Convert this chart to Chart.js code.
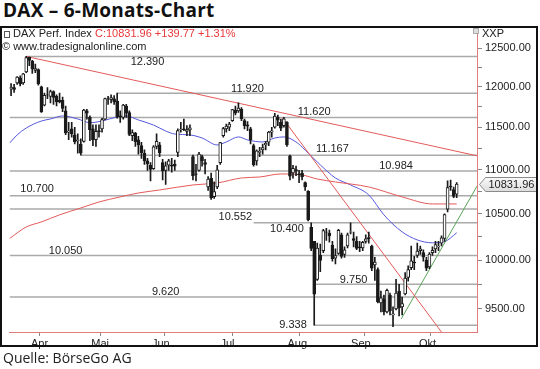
<!DOCTYPE html>
<html>
<head>
<meta charset="utf-8">
<title>DAX – 6-Monats-Chart</title>
<script src="https://cdn.jsdelivr.net/npm/chart.js@4/dist/chart.umd.min.js"></script>
<style>
  html, body { margin: 0; padding: 0; background: #fff; }
  #wrap { position: relative; width: 540px; height: 369px; overflow: hidden; font-family: "Liberation Sans", Arial, sans-serif; }
  #c { position: absolute; left: 0; top: 0; }
  #title { position: absolute; left: 3px; top: 1px; font: 700 19px/19px "Open Sans", sans-serif; letter-spacing: 0.25px; color: #111; white-space: nowrap; }
  #frame { position: absolute; left: 0; top: 26px; width: 538px; height: 321px; border: 2px solid #111; box-sizing: border-box; pointer-events: none; }
  .info { position: absolute; font-size: 11px; line-height: 13px; color: #222; white-space: nowrap; }
  .info .red { color: #e8383a; }
  #icon { display: inline-block; width: 4px; height: 5px; border: 1px solid #555; margin-right: 3px; vertical-align: -1px; }
  #closeBox { position: absolute; left: 473px; top: 28px; width: 4px; height: 4px; border: 1px solid #aaa; background: #ddd; }
  #source { position: absolute; left: 3px; top: 349px; font: 400 14px/18px "Open Sans", sans-serif; color: #222; white-space: nowrap; }
</style>
</head>
<body>
<div id="wrap">
  <div id="title">DAX – 6-Monats-Chart</div>
  <canvas id="c" width="540" height="369"></canvas>
  <div id="frame"></div>
  <div class="info" style="left:4px;top:27px;"><span id="icon"></span>DAX Perf. Index <span class="red">C:10831.96 +139.77 +1.31%</span></div>
  <div class="info" style="left:2px;top:40px;">© www.tradesignalonline.com</div>
  <div class="info" style="left:482px;top:27px;">XXP</div>
  <div id="closeBox"></div>
  <div id="source">Quelle: BörseGo AG</div>
</div>
<script>
// =============================
// DATA (trading days 1 Apr – 28 Oct 2015, x = day index)
// =============================
const months = ["Apr", "Mai", "Jun", "Jul", "Aug", "Sep", "Okt"];
const monthStart = [0, 20, 40, 62, 85, 106, 128];

const open = [
  11970, 11990, 12050, 12110, 12050, 12190, 12380, 12330, 12210, 12220,
  12000, 11770, 11900, 11880, 11940, 11880, 11830, 11830, 11700, 11440,
  11480, 11410, 11340, 11300, 11330, 11700, 11620, 11480, 11350, 11460,
  11480, 11600, 11850, 11840, 11850, 11820, 11640, 11620, 11760, 11680,
  11400, 11430, 11350, 11280, 11190, 11100, 11050, 11010, 11270, 11290,
  11080, 10990, 11050, 11050, 11060, 11200, 11470, 11480, 11450, 11470,
  11150, 10950, 10990, 11150, 11080, 10800, 10900, 10690, 10800, 11080,
  11400, 11480, 11500, 11580, 11710, 11700, 11720, 11580, 11530, 11480,
  11280, 11100, 11200, 11230, 11290, 11320, 11440, 11500, 11620, 11560,
  11520, 11560, 11160, 10960, 11000, 10950, 10960, 10850, 10750, 10350,
  10200, 9800, 10050, 10100, 10300, 10290, 10160, 10020, 10070, 10270,
  10060, 10150, 10300, 10230, 10200, 10140, 10130, 10200, 10240, 10150,
  9950, 9900, 9560, 9600, 9470, 9640, 9440, 9500, 9680, 9520,
  9650, 9820, 9920, 9980, 10050, 10100, 10080, 10000, 9930, 10080,
  10120, 10140, 10180, 10230, 10550, 10810, 10770, 10720
];
const high = [
  12040, 12030, 12130, 12140, 12170, 12390, 12380, 12340, 12290, 12230,
  12010, 11920, 11990, 11960, 11950, 11900, 11920, 11870, 11760, 11560,
  11560, 11500, 11420, 11360, 11720, 11720, 11640, 11530, 11530, 11530,
  11610, 11860, 11880, 11900, 11890, 11920, 11700, 11780, 11780, 11700,
  11470, 11440, 11390, 11320, 11230, 11130, 11080, 11280, 11420, 11320,
  11120, 11090, 11120, 11130, 11110, 11480, 11560, 11600, 11520, 11530,
  11170, 11060, 11200, 11170, 11120, 10920, 10960, 10860, 11050, 11320,
  11500, 11540, 11560, 11720, 11760, 11800, 11740, 11600, 11570, 11500,
  11300, 11230, 11260, 11300, 11330, 11450, 11500, 11670, 11650, 11600,
  11620, 11570, 11170, 11050, 11040, 10990, 10990, 10860, 10760, 10400,
  10200, 10180, 10170, 10330, 10340, 10320, 10200, 10120, 10330, 10290,
  10140, 10290, 10400, 10300, 10250, 10200, 10200, 10270, 10300, 10160,
  10030, 9920, 9680, 9640, 9700, 9660, 9520, 9800, 9750, 9620,
  9870, 9940, 10150, 10040, 10180, 10150, 10110, 10030, 10080, 10140,
  10200, 10200, 10260, 10500, 10870, 10880, 10800, 10850
];
const low = [
  11890, 11930, 12030, 12010, 12030, 12180, 12270, 12170, 12180, 12020,
  11680, 11760, 11850, 11800, 11780, 11760, 11800, 11690, 11410, 11350,
  11380, 11300, 11190, 11167, 11320, 11600, 11340, 11280, 11270, 11380,
  11440, 11590, 11780, 11800, 11780, 11610, 11560, 11600, 11620, 11400,
  11340, 11270, 11180, 11130, 11060, 10990, 10870, 11000, 11240, 11150,
  10880, 10830, 10990, 10970, 10990, 11150, 11440, 11460, 11400, 11400,
  10880, 10870, 10980, 11040, 10950, 10760, 10660, 10670, 10780, 11060,
  11380, 11440, 11460, 11570, 11650, 11680, 11580, 11480, 11460, 11300,
  11040, 11050, 11150, 11180, 11230, 11280, 11380, 11490, 11520, 11460,
  11500, 11270, 10880, 10900, 10930, 10850, 10880, 10760, 10420, 10100,
  9338, 9790, 9880, 10080, 10210, 10190, 9990, 9960, 10060, 10020,
  10030, 10130, 10280, 10140, 10110, 10090, 10100, 10180, 10180, 9890,
  9790, 9560, 9470, 9440, 9460, 9440, 9325, 9490, 9430, 9440,
  9640, 9780, 9900, 9900, 10030, 10060, 9990, 9890, 9910, 10050,
  10080, 10100, 10150, 10200, 10520, 10760, 10680, 10680
];
const close = [
  11998, 11967, 12124, 12036, 12166, 12375, 12338, 12227, 12232, 12039,
  11688, 11892, 11897, 11939, 11868, 11810, 11812, 11730, 11432, 11454,
  11420, 11327, 11350, 11190, 11709, 11672, 11472, 11351, 11450, 11447,
  11595, 11853, 11848, 11864, 11815, 11625, 11625, 11771, 11673, 11413,
  11436, 11328, 11290, 11197, 11100, 11064, 11001, 11265, 11332, 11197,
  10984, 11044, 11100, 11040, 11040, 11460, 11471, 11471, 11473, 11492,
  10930, 10945, 11180, 11099, 11058, 10890, 10676, 10747, 10996, 11316,
  11484, 11516, 11539, 11716, 11673, 11734, 11604, 11520, 11512, 11347,
  11056, 11218, 11212, 11257, 11308, 11443, 11456, 11636, 11585, 11490,
  11604, 11293, 10924, 11015, 10985, 10940, 10915, 10800, 10432, 10124,
  9648, 10128, 9997, 10315, 10298, 10259, 10016, 10048, 10318, 10038,
  10108, 10271, 10303, 10210, 10123, 10131, 10188, 10227, 10229, 9916,
  9980, 9570, 9612, 9470, 9688, 9483, 9450, 9660, 9509, 9553,
  9814, 9902, 9994, 9970, 10096, 10119, 10032, 9915, 10065, 10104,
  10164, 10147, 10238, 10491, 10794, 10801, 10692, 10831.96
];

// moving averages (day index / value)
const blueMaDay = [-0.5, 2, 5, 10, 13, 17, 22, 26, 30, 35, 38, 42, 47, 51, 54, 59, 63, 68,
  71, 75, 78, 83, 87, 90, 94, 97, 102, 107, 112, 118, 123, 129, 134, 139, 143, 147];
const blueMaValue = [11310, 11408, 11491, 11576, 11601, 11638, 11601, 11556, 11576, 11626, 11638, 11589,
  11527, 11455, 11419, 11408, 11371, 11288, 11324, 11384, 11348, 11324, 11371, 11384, 11324, 11229,
  11054, 10903, 10823, 10710, 10488, 10302, 10215, 10184, 10196, 10292];
const redMaDay = [-0.5, 5, 10, 16, 23, 29, 36, 42, 49, 60, 68, 76, 82, 89, 96, 101, 107, 118, 129, 139, 147];
const redMaValue = [10230, 10355, 10410, 10488, 10564, 10631, 10688, 10732, 10766, 10823, 10846,
  10903, 10914, 10949, 10937, 10891, 10857, 10800, 10688, 10609, 10609];

// support / resistance levels
const levels = [12390, 11920, 11620, 11167, 10984, 10700, 10552, 10400, 10050, 9750, 9620, 9338];
const levelLabels = ["12.390", "11.920", "11.620", "11.167", "10.984", "10.700", "10.552", "10.400", "10.050", "9.750", "9.620", "9.338"];
const levelFromDay = [5, 35, -0.5, 23, -0.5, -0.5, -0.5, 80, -0.5, 100, -0.5, 100];

// trend lines [day, value]
const downTrend = [[5, 12390], [153.7, 11160]];
const steepTrend = [[89.4, 11620], [143, 9231]];
const upTrend = [[128.7, 9400], [153.7, 10810]];

const yTicks = [9500, 9750, 10000, 10250, 10500, 10750, 11000, 11250, 11500, 11750, 12000, 12250, 12500];

// =============================
// LAYOUT / STYLE
// =============================
const X_MIN = -0.5, X_MAX = 153.7;
const labelDay = [45, 78, 100, 106, 127, 8.6, 74, 91, 18, 113, 51, 93];
const labelShift = [6, -4, -5, -6, -5, -7, 8, 6, -4, -4, -5, 0];
const FONT = '"Liberation Sans", Arial, sans-serif';
const AXIS_RED = "#e27b7b";

const pts = (days, vals) => days.map((d, i) => ({ x: d, y: vals[i] }));
const seg = (p) => p.map(([d, v]) => ({ x: d, y: v }));

const lineDs = (data, color, width, order) => ({
  type: "line", data, borderColor: color, borderWidth: width,
  pointRadius: 0, fill: false, order
});

const datasets = [];
levels.forEach((v, k) => {
  datasets.push(lineDs([{ x: levelFromDay[k], y: v }, { x: X_MAX, y: v }], "#aaaaaa", 1.5, 9));
});
datasets.push(Object.assign(lineDs(pts(redMaDay, redMaValue), "#e45a5a", 1, 6), { cubicInterpolationMode: "monotone" }));
datasets.push(Object.assign(lineDs(pts(blueMaDay, blueMaValue), "#5858dc", 1, 6), { cubicInterpolationMode: "monotone" }));
datasets.push(lineDs(seg(downTrend), "#e45a5a", 1, 5));
datasets.push(lineDs(seg(steepTrend), "#e45a5a", 1, 5));
datasets.push(lineDs(seg(upTrend), "#5aa55a", 1, 5));

// wicks
datasets.push({
  type: "bar", data: open.map((o, i) => ({ x: i, y: [low[i], high[i]] })),
  backgroundColor: "#1a1a1a", borderWidth: 0, barThickness: 1, grouped: false, order: 1
});
// bodies
datasets.push({
  type: "bar",
  data: open.map((o, i) => ({ x: i, y: [Math.min(o, close[i]), Math.max(o, close[i])] })),
  backgroundColor: open.map((o, i) => close[i] >= o ? "#ffffff" : "#1a1a1a"),
  borderColor: "#1a1a1a", borderWidth: 1, borderSkipped: false,
  barThickness: 3, grouped: false, order: 0
});

const overlay = {
  id: "overlay",
  afterDatasetsDraw(chart) {
    const { ctx, scales: { x, y } } = chart;
    ctx.save();
    ctx.font = "11px " + FONT;
    ctx.fillStyle = "#222";
    ctx.textAlign = "center";
    ctx.textBaseline = "middle";
    levels.forEach((v, k) => {
      ctx.fillText(levelLabels[k], x.getPixelForValue(labelDay[k]), y.getPixelForValue(v) + labelShift[k]);
    });
    ctx.restore();
  },
  afterDraw(chart) {
    const { ctx, scales: { y } } = chart;
    const last = close[close.length - 1];
    const py = Math.round(y.getPixelForValue(last)) + 0.5;
    const x0 = y.left + 2.5;
    ctx.save();
    ctx.beginPath();
    ctx.moveTo(x0, py);
    ctx.lineTo(x0 + 6, py - 7);
    ctx.lineTo(536.5, py - 7);
    ctx.lineTo(536.5, py + 7);
    ctx.lineTo(x0 + 6, py + 7);
    ctx.closePath();
    const g = ctx.createLinearGradient(0, py - 7, 0, py + 7);
    g.addColorStop(0, "#fafafa");
    g.addColorStop(1, "#dcdcdc");
    ctx.fillStyle = g;
    ctx.fill();
    ctx.strokeStyle = "#8a8a8a";
    ctx.lineWidth = 1;
    ctx.stroke();
    ctx.font = "11px " + FONT;
    ctx.fillStyle = "#222";
    ctx.textBaseline = "middle";
    ctx.fillText(last.toFixed(2), x0 + 9, py + 0.5);
    ctx.restore();
  }
};

new Chart(document.getElementById("c").getContext("2d"), {
  type: "bar",
  data: { datasets },
  options: {
    responsive: false,
    animation: false,
    devicePixelRatio: 1,
    layout: { padding: { top: 28, left: 2, right: 0, bottom: 0 } },
    plugins: { legend: { display: false }, tooltip: { enabled: false } },
    scales: {
      x: {
        type: "linear", min: X_MIN, max: X_MAX, offset: false,
        afterBuildTicks: (s) => { s.ticks = monthStart.map((d) => ({ value: d - 0.5 })); },
        afterFit: (s) => { s.height = 37; },
        ticks: {
          callback: (v, k) => months[k], labelOffset: 30, maxRotation: 0, autoSkip: false,
          padding: 1, color: "#222", font: { family: FONT, size: 11 }
        },
        grid: { drawOnChartArea: false, tickLength: 4, color: "#888" },
        border: { color: AXIS_RED, width: 1 }
      },
      y: {
        type: "logarithmic", position: "right", min: 9272, max: 12766,
        afterBuildTicks: (s) => { s.ticks = yTicks.map((v) => ({ value: v })); },
        afterFit: (s) => { s.width = 63; },
        ticks: {
          callback: (v) => (v % 500 === 0 ? v.toFixed(2) : ""), autoSkip: false,
          padding: 3, color: "#222", font: { family: FONT, size: 11 }
        },
        grid: { drawOnChartArea: false, tickLength: 5, color: "#888" },
        border: { color: AXIS_RED, width: 1 }
      }
    }
  },
  plugins: [overlay]
});
</script>
</body>
</html>
